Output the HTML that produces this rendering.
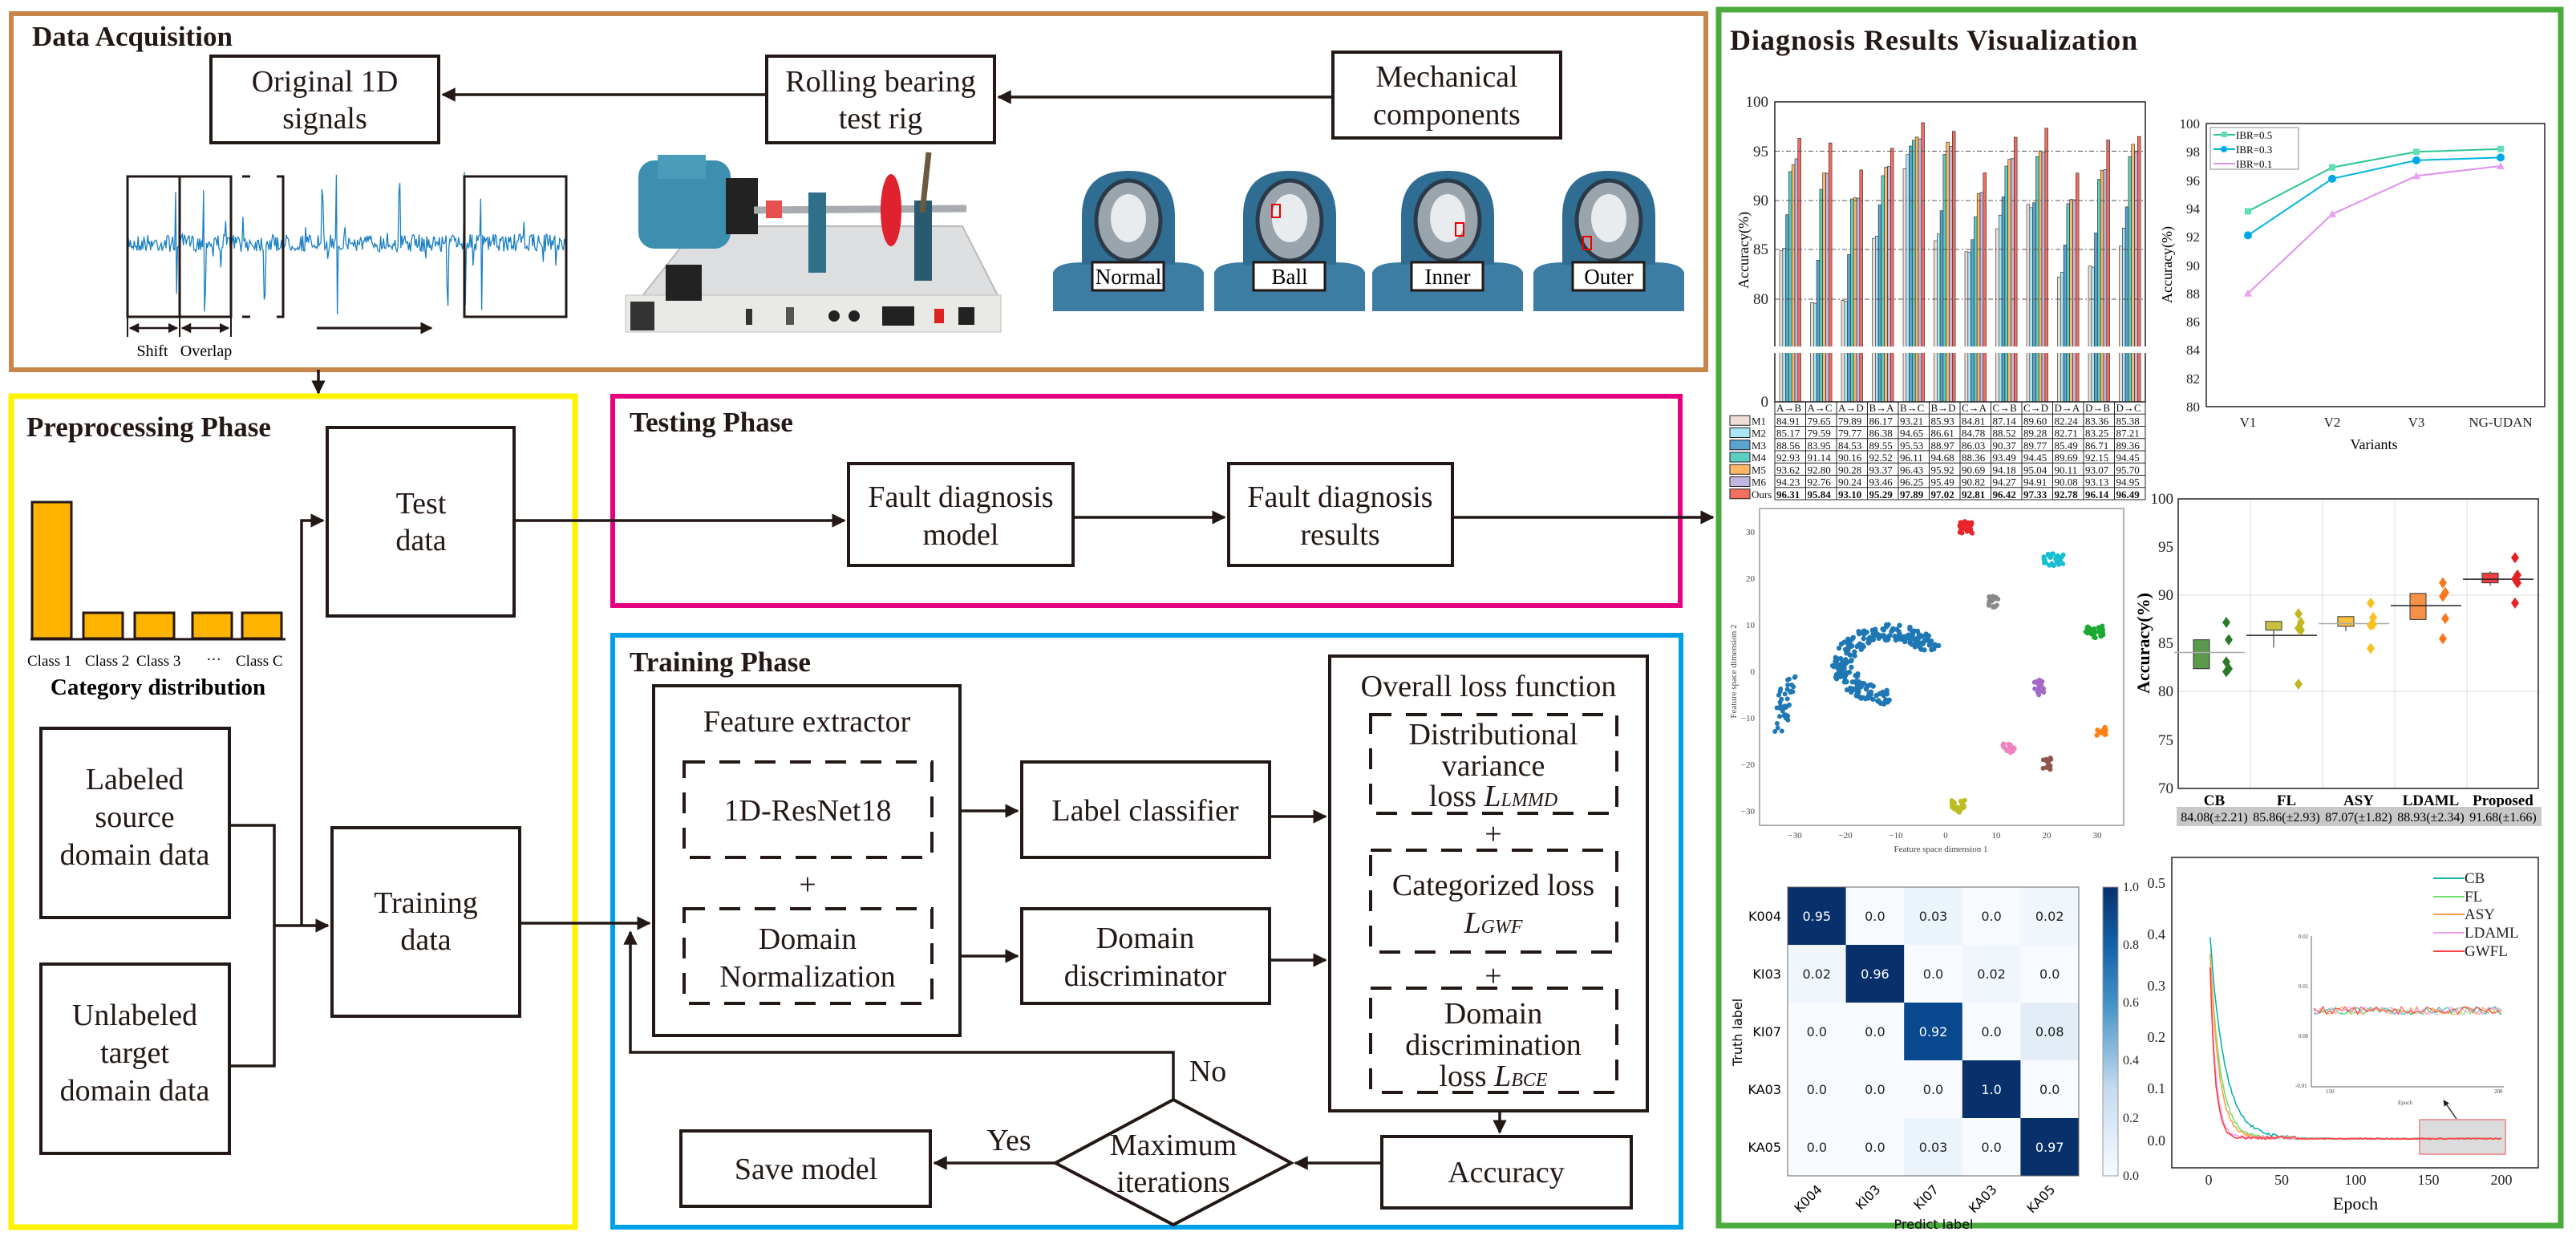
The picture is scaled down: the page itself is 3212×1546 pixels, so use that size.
<!DOCTYPE html>
<html><head><meta charset="utf-8"><style>
html,body{margin:0;padding:0;background:#fff;}
svg{display:block;}
text{font-family:"Liberation Serif",serif;}
.n{font-size:38px;text-anchor:middle;fill:#231815;}
.t{font-size:35px;font-weight:bold;fill:#231815;}
.bx{fill:#fff;stroke:#231815;stroke-width:4;}
.ln{stroke:#231815;stroke-width:3.5;fill:none;}
.ds{fill:none;stroke:#231815;stroke-width:4;stroke-dasharray:26 18;}
.tb{font-size:13px;fill:#111;}
.sm{font-size:12px;fill:#333;}
.cm{font-family:"DejaVu Sans",sans-serif;font-size:16px;}
</style></head><body>
<svg id="s" width="3212" height="1546" viewBox="0 0 3212 1546" xmlns="http://www.w3.org/2000/svg">
<defs>
<marker id="a" viewBox="0 0 10 10" refX="9" refY="5" markerWidth="5" markerHeight="5" orient="auto-start-reverse"><path d="M0,0 L10,5 L0,10 z" fill="#231815"/></marker>
</defs>

<rect x="14" y="17" width="2113" height="444" fill="none" stroke="#c8864a" stroke-width="6"/>
<rect x="14" y="494" width="703" height="1036" fill="none" stroke="#fff200" stroke-width="7"/>
<rect x="764" y="494" width="1331" height="261" fill="none" stroke="#e4007f" stroke-width="6"/>
<rect x="764" y="792" width="1332" height="738" fill="none" stroke="#00a0e9" stroke-width="6"/>
<rect x="2143" y="12" width="1050" height="1516" fill="none" stroke="#4aab3c" stroke-width="7"/>

<text x="40" y="57" class="t">Data Acquisition</text>
<rect class="bx" x="263" y="70" width="284" height="108"/>
<text class="n" x="405" y="114">Original 1D</text><text class="n" x="405" y="160">signals</text>
<rect class="bx" x="956" y="70" width="284" height="108"/>
<text class="n" x="1098" y="114">Rolling bearing</text><text class="n" x="1098" y="160">test rig</text>
<rect class="bx" x="1662" y="65" width="284" height="107"/>
<text class="n" x="1804" y="108">Mechanical</text><text class="n" x="1804" y="155">components</text>
<line class="ln" x1="956" y1="118" x2="552" y2="118" marker-end="url(#a)"/>
<line class="ln" x1="1662" y1="121" x2="1245" y2="121" marker-end="url(#a)"/>

<g id="wave"></g>
<rect x="159" y="220" width="129" height="175" fill="none" stroke="#231815" stroke-width="3"/>
<line x1="224" y1="220" x2="224" y2="395" stroke="#231815" stroke-width="3"/>
<path d="M302,220 H312 M345,220 H353 V395 H345 M302,395 H312" fill="none" stroke="#231815" stroke-width="3"/>
<rect x="579" y="220" width="127" height="175" fill="none" stroke="#231815" stroke-width="3"/>
<line x1="159" y1="395" x2="159" y2="420" stroke="#231815" stroke-width="2"/>
<line x1="224" y1="395" x2="224" y2="420" stroke="#231815" stroke-width="2"/>
<line x1="288" y1="395" x2="288" y2="420" stroke="#231815" stroke-width="2"/>
<line x1="162" y1="409" x2="221" y2="409" stroke="#231815" stroke-width="2.5" marker-start="url(#a)" marker-end="url(#a)"/>
<line x1="227" y1="409" x2="285" y2="409" stroke="#231815" stroke-width="2.5" marker-start="url(#a)" marker-end="url(#a)"/>
<line x1="395" y1="409" x2="538" y2="409" stroke="#231815" stroke-width="3" marker-end="url(#a)"/>
<text x="190" y="444" font-size="20" text-anchor="middle">Shift</text>
<text x="257" y="444" font-size="20" text-anchor="middle">Overlap</text>
<line class="ln" x1="397" y1="461" x2="397" y2="490" marker-end="url(#a)"/>

<g>
<polygon points="800,370 870,282 1200,282 1245,370" fill="#dcdedf" stroke="#b8babc" stroke-width="2"/>
<rect x="780" y="368" width="468" height="46" fill="#e9e9e6" stroke="#c0c0c0"/>
<rect x="786" y="376" width="30" height="36" fill="#333"/>
<rect x="930" y="385" width="8" height="20" fill="#333"/><rect x="980" y="383" width="10" height="22" fill="#555"/>
<circle cx="1040" cy="394" r="7" fill="#222"/><circle cx="1065" cy="394" r="7" fill="#222"/>
<rect x="1100" y="382" width="40" height="24" fill="#222"/><rect x="1165" y="385" width="12" height="18" fill="#d22"/><rect x="1195" y="383" width="20" height="22" fill="#222"/>
<rect x="830" y="330" width="45" height="45" fill="#222"/>
<rect x="796" y="200" width="115" height="110" rx="20" fill="#3d8fb0"/>
<rect x="820" y="193" width="60" height="30" fill="#4a9cbb"/>
<rect x="905" y="222" width="40" height="70" fill="#222"/>
<line x1="940" y1="262" x2="1205" y2="260" stroke="#a8acb0" stroke-width="9"/>
<rect x="955" y="250" width="20" height="22" fill="#e85050"/>
<rect x="1008" y="240" width="22" height="100" fill="#2f6f8a"/>
<ellipse cx="1111" cy="262" rx="13" ry="45" fill="#e0222f"/>
<rect x="1140" y="250" width="22" height="100" fill="#2a5a70"/>
<line x1="1158" y1="190" x2="1150" y2="265" stroke="#6a5a40" stroke-width="7"/>
</g>

<g id="bear"></g>

<text x="33" y="544" class="t">Preprocessing Phase</text>
<g fill="#ffb400" stroke="#231815" stroke-width="3">
<rect x="40" y="626" width="49" height="170"/>
<rect x="104" y="764" width="49" height="32"/>
<rect x="168" y="764" width="49" height="32"/>
<rect x="240" y="764" width="49" height="32"/>
<rect x="302" y="764" width="49" height="32"/>
</g>
<line x1="38" y1="797" x2="356" y2="797" stroke="#231815" stroke-width="3"/>
<text x="34" y="830" font-size="19">Class 1</text><text x="106" y="830" font-size="19">Class 2</text><text x="170" y="830" font-size="19">Class 3</text>
<text x="257" y="828" font-size="19">···</text><text x="294" y="830" font-size="19">Class C</text>
<text x="197" y="866" font-size="29" font-weight="bold" text-anchor="middle">Category distribution</text>

<rect class="bx" x="51" y="908" width="235" height="236"/>
<text class="n" x="168" y="984">Labeled</text><text class="n" x="168" y="1031">source</text><text class="n" x="168" y="1078">domain data</text>
<rect class="bx" x="51" y="1202" width="235" height="236"/>
<text class="n" x="168" y="1278">Unlabeled</text><text class="n" x="168" y="1325">target</text><text class="n" x="168" y="1372">domain data</text>
<rect class="bx" x="408" y="533" width="233" height="235"/>
<text class="n" x="525" y="640">Test</text><text class="n" x="525" y="686">data</text>
<rect class="bx" x="414" y="1032" width="234" height="235"/>
<text class="n" x="531" y="1138">Training</text><text class="n" x="531" y="1184">data</text>
<path class="ln" d="M286,1029 H342 V1329 H286"/>
<line class="ln" x1="342" y1="1154" x2="409" y2="1154" marker-end="url(#a)"/>
<path class="ln" d="M376,1154 V649 H403" marker-end="url(#a)"/>

<text x="785" y="538" class="t">Testing Phase</text>
<rect class="bx" x="1058" y="578" width="280" height="127"/>
<text class="n" x="1198" y="632">Fault diagnosis</text><text class="n" x="1198" y="679">model</text>
<rect class="bx" x="1532" y="578" width="279" height="127"/>
<text class="n" x="1671" y="632">Fault diagnosis</text><text class="n" x="1671" y="679">results</text>
<line class="ln" x1="641" y1="649" x2="1053" y2="649" marker-end="url(#a)"/>
<line class="ln" x1="1338" y1="645" x2="1527" y2="645" marker-end="url(#a)"/>
<line class="ln" x1="1811" y1="645" x2="2136" y2="645" marker-end="url(#a)"/>

<text x="785" y="837" class="t">Training Phase</text>
<rect class="bx" x="815" y="855" width="382" height="436"/>
<text class="n" x="1006" y="912">Feature extractor</text>
<rect class="ds" x="853" y="950" width="309" height="119"/>
<text class="n" x="1007" y="1023">1D-ResNet18</text>
<text class="n" x="1007" y="1115" font-size="44">+</text>
<rect class="ds" x="853" y="1133" width="309" height="118"/>
<text class="n" x="1007" y="1183">Domain</text><text class="n" x="1007" y="1230">Normalization</text>
<rect class="bx" x="1274" y="950" width="309" height="119"/>
<text class="n" x="1428" y="1023">Label classifier</text>
<rect class="bx" x="1274" y="1133" width="309" height="118"/>
<text class="n" x="1428" y="1182">Domain</text><text class="n" x="1428" y="1229">discriminator</text>
<line class="ln" x1="1197" y1="1011" x2="1269" y2="1011" marker-end="url(#a)"/>
<line class="ln" x1="1197" y1="1192" x2="1269" y2="1192" marker-end="url(#a)"/>
<line class="ln" x1="1583" y1="1018" x2="1653" y2="1018" marker-end="url(#a)"/>
<line class="ln" x1="1583" y1="1197" x2="1653" y2="1197" marker-end="url(#a)"/>
<rect class="bx" x="1658" y="818" width="396" height="567"/>
<text class="n" x="1856" y="868">Overall loss function</text>
<rect class="ds" x="1709" y="891" width="307" height="123"/>
<text class="n" x="1862" y="928">Distributional</text><text class="n" x="1862" y="967">variance</text>
<text class="n" x="1862" y="1005">loss <tspan font-style="italic">L</tspan><tspan font-style="italic" font-size="24">LMMD</tspan></text>
<text class="n" x="1862" y="1052" font-size="44">+</text>
<rect class="ds" x="1709" y="1060" width="307" height="127"/>
<text class="n" x="1862" y="1116">Categorized loss</text>
<text class="n" x="1862" y="1163"><tspan font-style="italic">L</tspan><tspan font-style="italic" font-size="24">GWF</tspan></text>
<text class="n" x="1862" y="1229" font-size="44">+</text>
<rect class="ds" x="1709" y="1232" width="307" height="130"/>
<text class="n" x="1862" y="1276">Domain</text><text class="n" x="1862" y="1315">discrimination</text>
<text class="n" x="1862" y="1354">loss <tspan font-style="italic">L</tspan><tspan font-style="italic" font-size="24">BCE</tspan></text>
<rect class="bx" x="1723" y="1417" width="311" height="89"/>
<text class="n" x="1878" y="1474">Accuracy</text>
<line class="ln" x1="1870" y1="1385" x2="1870" y2="1412" marker-end="url(#a)"/>
<polygon points="1463,1371 1610,1450 1463,1527 1316,1450" fill="#fff" stroke="#231815" stroke-width="4"/>
<text class="n" x="1463" y="1440">Maximum</text><text class="n" x="1463" y="1486">iterations</text>
<line class="ln" x1="1723" y1="1450" x2="1615" y2="1450" marker-end="url(#a)"/>
<line class="ln" x1="1316" y1="1450" x2="1165" y2="1450" marker-end="url(#a)"/>
<rect class="bx" x="849" y="1410" width="311" height="94"/>
<text class="n" x="1005" y="1470">Save model</text>
<text class="n" x="1258" y="1434">Yes</text><text class="n" x="1506" y="1348">No</text>
<path class="ln" d="M1463,1371 V1312 H786 V1162" marker-end="url(#a)"/>
<line class="ln" x1="648" y1="1151" x2="810" y2="1151" marker-end="url(#a)"/>

<text x="2157" y="62" font-size="36" font-weight="bold" fill="#231815" letter-spacing="1">Diagnosis Results Visualization</text>

<g id="bars"></g>
<g stroke="#555" stroke-width="1" stroke-dasharray="6 3 2 3">
<line x1="2213" y1="188.5" x2="2675" y2="188.5"/><line x1="2213" y1="250" x2="2675" y2="250"/>
<line x1="2213" y1="311" x2="2675" y2="311"/><line x1="2213" y1="373" x2="2675" y2="373"/>
</g>
<rect x="2213" y="127" width="462" height="374" fill="none" stroke="#222" stroke-width="1.5"/>
<rect x="2205" y="432" width="478" height="8" fill="#fff"/>
<g font-size="19" text-anchor="end" fill="#222">
<text x="2205" y="133">100</text><text x="2205" y="195">95</text><text x="2205" y="256">90</text><text x="2205" y="317">85</text><text x="2205" y="379">80</text><text x="2205" y="507">0</text>
</g>
<text transform="translate(2180,312) rotate(-90)" font-size="18" text-anchor="middle">Accuracy(%)</text>
<g id="tbl"></g>

<rect x="2751" y="154" width="422" height="353" fill="none" stroke="#222" stroke-width="1.5"/>
<g font-size="17" text-anchor="end" fill="#222">
<text x="2743" y="160">100</text><text x="2743" y="195">98</text><text x="2743" y="231">96</text><text x="2743" y="266">94</text><text x="2743" y="301">92</text><text x="2743" y="337">90</text><text x="2743" y="372">88</text><text x="2743" y="407">86</text><text x="2743" y="442">84</text><text x="2743" y="478">82</text><text x="2743" y="513">80</text>
</g>
<g font-size="17" text-anchor="middle" fill="#222"><text x="2803" y="532">V1</text><text x="2908" y="532">V2</text><text x="3013" y="532">V3</text><text x="3118" y="532">NG-UDAN</text></g>
<text x="2960" y="560" font-size="18" text-anchor="middle">Variants</text>
<text transform="translate(2708,330) rotate(-90)" font-size="18" text-anchor="middle">Accuracy(%)</text>
<rect x="2756" y="159" width="110" height="52" fill="#fff" stroke="#888"/>
<g font-size="13"><line x1="2760" y1="168" x2="2787" y2="168" stroke="#2ec48c" stroke-width="2"/><rect x="2770" y="164" width="7" height="7" fill="#5fe0b0"/><text x="2788" y="173">IBR=0.5</text>
<line x1="2760" y1="186" x2="2787" y2="186" stroke="#00b4e0" stroke-width="2"/><circle cx="2773" cy="186" r="4" fill="#00a8e8"/><text x="2788" y="191">IBR=0.3</text>
<line x1="2760" y1="204" x2="2787" y2="204" stroke="#e090f0" stroke-width="2"/><text x="2788" y="209">IBR=0.1</text></g>
<g id="lines"></g>

<rect x="2194" y="634" width="454" height="395" fill="none" stroke="#999" stroke-width="1.5"/>
<g id="tsne"></g>
<g font-size="11" fill="#444" text-anchor="middle">
<text x="2238" y="1045">−30</text><text x="2301" y="1045">−20</text><text x="2364" y="1045">−10</text><text x="2426" y="1045">0</text><text x="2489" y="1045">10</text><text x="2552" y="1045">20</text><text x="2615" y="1045">30</text>
<text x="2420" y="1062">Feature space dimension 1</text>
</g>
<g font-size="11" fill="#444" text-anchor="end">
<text x="2188" y="667">30</text><text x="2188" y="725">20</text><text x="2188" y="783">10</text><text x="2188" y="841">0</text><text x="2188" y="899">−10</text><text x="2188" y="957">−20</text><text x="2188" y="1015">−30</text>
</g>
<text transform="translate(2165,837) rotate(-90)" font-size="11" fill="#444" text-anchor="middle">Feature space dimension 2</text>

<g stroke="#ddd" stroke-width="1"><line x1="2806" y1="622" x2="2806" y2="983"/><line x1="2896" y1="622" x2="2896" y2="983"/><line x1="2986" y1="622" x2="2986" y2="983"/><line x1="3076" y1="622" x2="3076" y2="983"/>
<line x1="2716" y1="742" x2="3165" y2="742"/><line x1="2716" y1="862" x2="3165" y2="862"/></g>
<rect x="2716" y="622" width="449" height="361" fill="none" stroke="#222" stroke-width="1.5"/>
<g font-size="19" text-anchor="end" fill="#222">
<text x="2710" y="628">100</text><text x="2710" y="688">95</text><text x="2710" y="748">90</text><text x="2710" y="808">85</text><text x="2710" y="868">80</text><text x="2710" y="929">75</text><text x="2710" y="989">70</text>
</g>
<text transform="translate(2680,802) rotate(-90)" font-size="22" font-weight="bold" text-anchor="middle">Accuracy(%)</text>
<g id="box"></g>
<g font-size="19" font-weight="bold" text-anchor="middle"><text x="2761" y="1004">CB</text><text x="2851" y="1004">FL</text><text x="2941" y="1004">ASY</text><text x="3031" y="1004">LDAML</text><text x="3121" y="1004">Proposed</text></g>
<rect x="2714" y="1006" width="455" height="24" fill="#c8c8c8"/>
<g font-size="16" text-anchor="middle"><text x="2761" y="1024">84.08(±2.21)</text><text x="2851" y="1024">85.86(±2.93)</text><text x="2941" y="1024">87.07(±1.82)</text><text x="3031" y="1024">88.93(±2.34)</text><text x="3121" y="1024">91.68(±1.66)</text></g>

<g id="conf"></g>
<defs><linearGradient id="cb" x1="0" y1="1" x2="0" y2="0"><stop offset="0" stop-color="#f7fbff"/><stop offset="0.3" stop-color="#c6dbef"/><stop offset="0.6" stop-color="#4292c6"/><stop offset="0.8" stop-color="#1361a8"/><stop offset="1" stop-color="#08306b"/></linearGradient></defs>
<rect x="2622" y="1106" width="19" height="360" fill="url(#cb)" stroke="#999"/>
<g class="cm" font-size="15" fill="#222"><text x="2647" y="1111">1.0</text><text x="2647" y="1183">0.8</text><text x="2647" y="1255">0.6</text><text x="2647" y="1327">0.4</text><text x="2647" y="1399">0.2</text><text x="2647" y="1471">0.0</text></g>
<text class="cm" x="2411" y="1532" font-size="16" text-anchor="middle">Predict label</text>
<text class="cm" transform="translate(2172,1287) rotate(-90)" font-size="15" text-anchor="middle">Truth label</text>

<rect x="2708" y="1069" width="457" height="387" fill="none" stroke="#222" stroke-width="1.5"/>
<g font-size="18" text-anchor="end" fill="#222"><text x="2700" y="1107">0.5</text><text x="2700" y="1171">0.4</text><text x="2700" y="1235">0.3</text><text x="2700" y="1299">0.2</text><text x="2700" y="1363">0.1</text><text x="2700" y="1428">0.0</text></g>
<g font-size="18" text-anchor="middle" fill="#222"><text x="2754" y="1477">0</text><text x="2845" y="1477">50</text><text x="2937" y="1477">100</text><text x="3028" y="1477">150</text><text x="3119" y="1477">200</text></g>
<text x="2937" y="1508" font-size="22" text-anchor="middle">Epoch</text>
<rect x="3017" y="1396" width="107" height="43" fill="#dcdcdc" stroke="#f08080" stroke-width="1.5"/>
<line x1="3063" y1="1395" x2="3047" y2="1372" stroke="#333" stroke-width="1.5" marker-end="url(#a)"/>
<g id="loss"></g>
<path d="M2882,1167 V1355 H3122" fill="none" stroke="#666" stroke-width="1"/>
<g font-size="7" fill="#444"><text x="2866" y="1170">0.02</text><text x="2866" y="1232">0.01</text><text x="2866" y="1294">0.00</text><text x="2862" y="1356">-0.01</text><text x="2900" y="1363">150</text><text x="3110" y="1363">200</text><text x="2990" y="1377">Epoch</text></g>
<g font-size="19" fill="#222">
<line x1="3034" y1="1095" x2="3073" y2="1095" stroke="#10b0b0" stroke-width="2"/><text x="3073" y="1101">CB</text>
<line x1="3034" y1="1118" x2="3073" y2="1118" stroke="#70e070" stroke-width="2"/><text x="3073" y="1124">FL</text>
<line x1="3034" y1="1140" x2="3073" y2="1140" stroke="#ffa040" stroke-width="2"/><text x="3073" y="1146">ASY</text>
<line x1="3034" y1="1163" x2="3073" y2="1163" stroke="#f0a0f0" stroke-width="2"/><text x="3073" y="1169">LDAML</text>
<line x1="3034" y1="1186" x2="3073" y2="1186" stroke="#ff4040" stroke-width="2"/><text x="3073" y="1192">GWFL</text>
</g>
</svg>
<script>
(function(){
var NS="http://www.w3.org/2000/svg";
var seed=7;function R(){seed=(seed*16807)%2147483647;return seed/2147483647;}
function el(p,t,a){var e=document.createElementNS(NS,t);for(var k in a)e.setAttribute(k,a[k]);p.appendChild(e);return e;}
function G(id){return document.getElementById(id);}
var d="M159,303";for(var x=159;x<=706;x+=1.2){var a=(R()-0.5)*22;if(R()<0.03)a*=3;var spk=[220,255,330,402,420,498,558,580,600];for(var i=0;i<spk.length;i++)if(Math.abs(x-spk[i])<1.3)a=(R()<0.5?-1:1)*(55+R()*35);d+=" L"+x.toFixed(1)+","+(303+a).toFixed(1);}
el(G("wave"),"path",{d:d,fill:"none",stroke:"#1a7fc4","stroke-width":1.3});
var bc=[1407,1608,1805,2006],bl=["Normal","Ball","Inner","Outer"];
bc.forEach(function(c,i){var g=G("bear");
el(g,"path",{d:"M"+(c-94)+",388 V340 Q"+(c-90)+",327 "+(c-56)+",327 H"+(c+56)+" Q"+(c+90)+",327 "+(c+94)+",340 V388 Z",fill:"#3e7da3"});
el(g,"path",{d:"M"+(c-58)+",330 V270 Q"+(c-58)+",213 "+c+",213 Q"+(c+58)+",213 "+(c+58)+",270 V330 Z",fill:"#2f6d93"});
el(g,"ellipse",{cx:c,cy:275,rx:40,ry:50,fill:"#9aa4ac",stroke:"#2a3a48","stroke-width":5});
el(g,"ellipse",{cx:c,cy:272,rx:22,ry:30,fill:"#e8ecef"});
el(g,"rect",{x:c-45,y:327,width:89,height:35,fill:"#fff",stroke:"#231815","stroke-width":3});
var t=el(g,"text",{x:c,y:354,"font-size":27,"text-anchor":"middle"});t.textContent=bl[i];
if(i>0)el(g,"rect",{x:[0,c-22,c+10,c-32][i],y:[0,255,278,295][i],width:10,height:16,fill:"none",stroke:"#e00","stroke-width":2});
});
var data=[[84.91,85.17,88.56,92.93,93.62,94.23,96.31],[79.65,79.59,83.95,91.14,92.80,92.76,95.84],[79.89,79.77,84.53,90.16,90.28,90.24,93.10],[86.17,86.38,89.55,92.52,93.37,93.46,95.29],[93.21,94.65,95.53,96.11,96.43,96.25,97.89],[85.93,86.61,88.97,94.68,95.92,95.49,97.02],[84.81,84.78,86.03,88.36,90.69,90.82,92.81],[87.14,88.52,90.37,93.49,94.18,94.27,96.42],[89.60,89.28,89.77,94.45,95.04,94.91,97.33],[82.24,82.71,85.49,89.69,90.11,90.08,92.78],[83.36,83.25,86.71,92.15,93.07,93.13,96.14],[85.38,87.21,89.36,94.45,95.70,94.95,96.49]];
var col=["#eedfd6","#a8e6f8","#5aa3cf","#5ccfc0","#fdb766","#c3b7e2","#f46f60"];
data.forEach(function(g,gi){g.forEach(function(v,bi){var x=2219+gi*38.5+bi*3.8;var y=127+(100-v)*12.3;el(G("bars"),"rect",{x:x,y:y,width:3.8,height:501-y,fill:col[bi],stroke:"#222","stroke-width":0.6});});});
var L=[[93.8,96.9,98.0,98.2,"#2ec48c","#5fe0b0"],[92.1,96.1,97.4,97.6,"#00b4e0","#00a8e8"],[88.0,93.6,96.3,97.0,"#e090f0","#e8a0f0"]];
var xs=[2803,2908,3013,3118];
L.forEach(function(s,k){var p="";for(var i=0;i<4;i++){var y=154+(100-s[i])*17.65;p+=(i?" L":"M")+xs[i]+","+y;if(k==1)el(G("lines"),"circle",{cx:xs[i],cy:y,r:5,fill:s[5]});else if(k==0)el(G("lines"),"rect",{x:xs[i]-4,y:y-4,width:8,height:8,fill:s[5]});else el(G("lines"),"path",{d:"M"+(xs[i]-5)+","+(y+4)+" L"+xs[i]+","+(y-5)+" L"+(xs[i]+5)+","+(y+4)+"Z",fill:s[5]});}
el(G("lines"),"path",{d:p,fill:"none",stroke:s[4],"stroke-width":2}).parentNode.insertBefore(G("lines").lastChild,G("lines").firstChild);});
function X(v){return 2426+v*6.28;}function Y(v){return 837-v*5.8;}
var cl=[[4,31,"#e8242a",30,1.4,1.4],[21.5,24,"#17becf",30,2,1.3],[9.5,15,"#888",15,1,1.3],[29.5,8.5,"#1aa830",30,1.8,1.3],[18.5,-3.5,"#a468c8",18,1,1.7],[31,-13,"#ff7f0e",14,1,1],[12.5,-16.5,"#f080c0",15,1.4,1],[20,-20,"#8c564b",14,1,1.5],[2.5,-29,"#bcbd22",22,1.3,1.3]];
cl.forEach(function(c){for(var i=0;i<c[3];i++)el(G("tsne"),"circle",{cx:X(c[0]+(R()-0.5)*2*c[4]),cy:Y(c[1]+(R()-0.5)*2*c[5]),r:3,fill:c[2]});});
for(var i=0;i<240;i++){var t=Math.PI*(0.15+R()*1.35),r=7+R()*4.5;var px=-11+r*Math.cos(t)*1.0,py=1.5+r*Math.sin(t)*0.75;el(G("tsne"),"circle",{cx:X(px),cy:Y(py),r:3.2,fill:"#1f77b4"});}
for(var i=0;i<40;i++){var yy=-7+(R()-0.5)*12;el(G("tsne"),"circle",{cx:X(-32+(R()-0.5)*3+(yy+7)*0.15),cy:Y(yy),r:3,fill:"#1f77b4"});}
function BY(v){return 622+(100-v)*12.03;}
var B=[[2761,82.4,85.4,82.4,85.4,84.08,"#5a9a4a","#2a7a2a",[87.2,85.4,83.1,82.4,82.1],"#aaa"],[2851,86.4,87.3,84.6,87.3,85.86,"#c8c040","#c0b820",[88.1,87.2,86.6,86.4,80.8],"#222"],[2941,86.8,87.8,86.3,87.8,87.07,"#f8c040","#f8c020",[89.2,87.7,86.9,87.0,84.5],"#aaa"],[3031,87.5,90.2,87.5,90.2,88.93,"#f89048","#f87820",[91.3,90.3,89.9,87.6,85.5],"#222"],[3121,91.3,92.3,91.0,92.5,91.68,"#f04040","#e82020",[93.9,92.1,91.7,91.3,89.2],"#222"]];
B.forEach(function(b){var g=G("box"),x=b[0]-16;el(g,"line",{x1:x,y1:BY(b[3]),x2:x,y2:BY(b[4]),stroke:"#222"});
el(g,"rect",{x:x-10,y:BY(b[2]),width:20,height:BY(b[1])-BY(b[2]),fill:b[6],stroke:"#333"});
el(g,"line",{x1:b[0]-50,y1:BY(b[5]),x2:b[0]+38,y2:BY(b[5]),stroke:b[9],"stroke-width":1.5});
b[8].forEach(function(v,i){var cx=b[0]+16+(i%2?2:-1),cy=BY(v);el(g,"path",{d:"M"+cx+","+(cy-7)+" L"+(cx+5)+","+cy+" L"+cx+","+(cy+7)+" L"+(cx-5)+","+cy+"Z",fill:b[7]});});});
var M=[[0.95,0,0.03,0,0.02],[0.02,0.96,0,0.02,0],[0,0,0.92,0,0.08],[0,0,0,1.0,0],[0,0,0.03,0,0.97]];
var lab=["K004","KI03","KI07","KA03","KA05"];
function cc(v){if(v>=0.95)return"#08306b";if(v>=0.9)return"#08488e";if(v>=0.08)return"#e2edf8";if(v>=0.03)return"#ecf4fb";if(v>=0.02)return"#eff6fc";return"#f7fbff";}
for(var r=0;r<5;r++){for(var c=0;c<5;c++){var v=M[r][c];var x=2229+c*72.6,y=1106+r*72;el(G("conf"),"rect",{x:x,y:y,width:72.8,height:72.2,fill:cc(v)});var t=el(G("conf"),"text",{x:x+36.3,y:y+42,"text-anchor":"middle","class":"cm",fill:v>0.5?"#fff":"#222"});t.textContent=v==1?"1.0":(v==0?"0.0":v.toFixed(2));}
var t2=el(G("conf"),"text",{x:2221,y:1106+r*72+42,"text-anchor":"end","class":"cm","font-size":15});t2.textContent=lab[r];
var t3=el(G("conf"),"text",{transform:"translate("+(2265+r*72.6+8)+",1484) rotate(-45)","text-anchor":"end","class":"cm","font-size":15});t3.textContent=lab[r];}
el(G("conf"),"rect",{x:2229,y:1106,width:363,height:360,fill:"none",stroke:"#666"});
var lc=[["#10b0b0",10,0.39],["#70e070",7,0.36],["#ffa040",6,0.36],["#f0a0f0",4,0.33],["#ff4040",3.5,0.33]];
lc.forEach(function(s,k){var p="";for(var e=1;e<=200;e+=1){var v=s[2]*Math.exp(-(e-1)/s[1])+0.004+R()*0.006*(e<60?1:0.4);p+=(e>1?" L":"M")+(2754+e*1.825).toFixed(1)+","+(1423-v*640).toFixed(1);}el(G("loss"),"path",{d:p,fill:"none",stroke:s[0],"stroke-width":1.6});
var q="";for(var i=0;i<=60;i++){q+=(i?" L":"M")+(2885+i*3.9).toFixed(1)+","+(1260+(R()-0.5)*10).toFixed(1);}el(G("loss"),"path",{d:q,fill:"none",stroke:s[0],"stroke-width":1});});
var T=G("tbl"),hd=["A→B","A→C","A→D","B→A","B→C","B→D","C→A","C→B","C→D","D→A","D→B","D→C"],nm=["M1","M2","M3","M4","M5","M6","Ours"];
for(var c=0;c<=12;c++)el(T,"line",{x1:2213+c*38.5,y1:501,x2:2213+c*38.5,y2:623,stroke:"#222","stroke-width":1});
for(var r=0;r<=8;r++)el(T,"line",{x1:2213,y1:501+r*15.25,x2:2675,y2:501+r*15.25,stroke:"#222","stroke-width":1});
hd.forEach(function(h,c){var t=el(T,"text",{x:2215+c*38.5,y:513,"class":"tb"});t.textContent=h;});
for(var r=0;r<7;r++){el(T,"rect",{x:2157,y:503+(r+1)*15.25,width:25,height:12,fill:col[r],stroke:"#222"});var t=el(T,"text",{x:2184,y:514+(r+1)*15.25,"class":"tb"});t.textContent=nm[r];
for(var c=0;c<12;c++){var t=el(T,"text",{x:2215+c*38.5,y:514+(r+1)*15.25,"class":"tb","font-weight":r==6?"bold":"normal"});t.textContent=data[c][r].toFixed(2);}}
})();
</script>
</body></html>
